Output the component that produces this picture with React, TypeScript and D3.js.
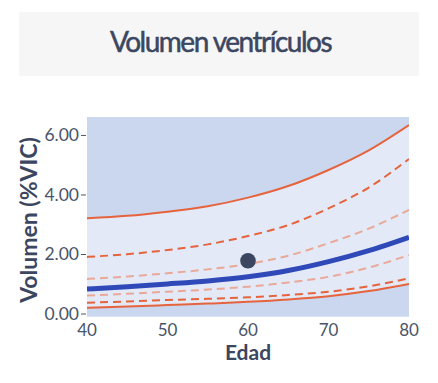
import React from "react";
import * as d3 from "d3";

const ages = [40, 45, 50, 55, 60, 65, 70, 75, 80];
const p99 = [3.22, 3.3, 3.44, 3.62, 3.91, 4.3, 4.84, 5.5, 6.35];
const p95 = [1.92, 2.01, 2.15, 2.34, 2.62, 2.99, 3.55, 4.25, 5.21];
const p75 = [1.18, 1.26, 1.37, 1.5, 1.68, 1.96, 2.38, 2.87, 3.5];
const p50 = [0.84, 0.92, 1.01, 1.11, 1.25, 1.46, 1.76, 2.13, 2.58];
const p25 = [0.62, 0.68, 0.75, 0.82, 0.92, 1.06, 1.25, 1.56, 1.98];
const p5 = [0.38, 0.42, 0.47, 0.51, 0.56, 0.64, 0.75, 0.93, 1.2];
const p1 = [0.21, 0.25, 0.3, 0.35, 0.41, 0.49, 0.6, 0.77, 1.01];
const patient = { age: 60, value: 1.79 };
const xTicks = [40, 50, 60, 70, 80];
const yTicks = [0, 2, 4, 6];

export default function App() {
  const W = 438, H = 383;
  const left = 87, right = 409, top = 117, bottom = 316.7;
  const x = d3.scaleLinear().domain([40, 80]).range([left, right]);
  const y = d3.scaleLinear().domain([-0.09, 6.62]).range([bottom, top]);
  const line = (vals: number[]) =>
    d3.line<number>().x((_, i) => x(ages[i])).y((v) => y(v)).curve(d3.curveMonotoneX)(vals) || "";
  const area = d3
    .area<number>()
    .x((_, i) => x(ages[i]))
    .y0((_, i) => y(p1[i]))
    .y1((v) => y(v))
    .curve(d3.curveMonotoneX)(p99) || "";
  const font = "Lato, 'Noto Sans', sans-serif";
  const textCol = "#4a5468";
  return (
    <svg width={W} height={H} style={{ position: "absolute", left: 0, top: 0 }}>
      <rect x={19} y={12} width={400} height={64} fill="#f6f6f6" rx={2} />
      <text
        x={220.5}
        y={52}
        textAnchor="middle"
        fontFamily={font}
        fontSize={28}
        fill="#3b4660"
        stroke="#3b4660"
        strokeWidth={0.5}
        letterSpacing={-1.5}
      >
        Volumen ventrículos
      </text>
      <defs>
        <clipPath id="clip">
          <rect x={left} y={top} width={right - left} height={bottom - top} />
        </clipPath>
      </defs>
      <rect x={left} y={top} width={right - left} height={bottom - top} fill="#cad7ee" />
      <g clipPath="url(#clip)">
        <path d={area} fill="#e3e9f7" />
        <path d={line(p99)} fill="none" stroke="#e5643d" strokeWidth={2} />
        <path d={line(p1)} fill="none" stroke="#e5643d" strokeWidth={2} />
        <path d={line(p95)} fill="none" stroke="#e5643d" strokeWidth={2} strokeDasharray="8,5" />
        <path d={line(p5)} fill="none" stroke="#e5643d" strokeWidth={2} strokeDasharray="8,5" />
        <path d={line(p75)} fill="none" stroke="#eaa898" strokeWidth={2} strokeDasharray="8,5" />
        <path d={line(p25)} fill="none" stroke="#eaa898" strokeWidth={2} strokeDasharray="8,5" />
        <path d={line(p50)} fill="none" stroke="#2f49b9" strokeWidth={5} />
      </g>
      <circle cx={x(patient.age)} cy={y(patient.value)} r={7.8} fill="#3b4660" />
      {yTicks.map((t) => (
        <g key={t}>
          <line x1={left - 6} x2={left - 1} y1={y(t)} y2={y(t)} stroke="#4a5468" strokeWidth={1} />
          <text x={left - 8} y={y(t) + 6} textAnchor="end" fontFamily={font} fontSize={17.5} fill={textCol}>
            {t.toFixed(2)}
          </text>
        </g>
      ))}
      {xTicks.map((t) => (
        <text key={t} x={x(t)} y={335.5} textAnchor="middle" fontFamily={font} fontSize={17} fill={textCol}>
          {t}
        </text>
      ))}
      <text x={248} y={360} textAnchor="middle" fontFamily={font} fontSize={21} fontWeight="bold" fill="#3b4660">
        Edad
      </text>
      <text
        transform={`translate(37,220) rotate(-90)`}
        textAnchor="middle"
        fontFamily={font}
        fontSize={23}
        fontWeight="bold"
        fill="#3b4660"
      >
        Volumen (%VIC)
      </text>
    </svg>
  );
}
